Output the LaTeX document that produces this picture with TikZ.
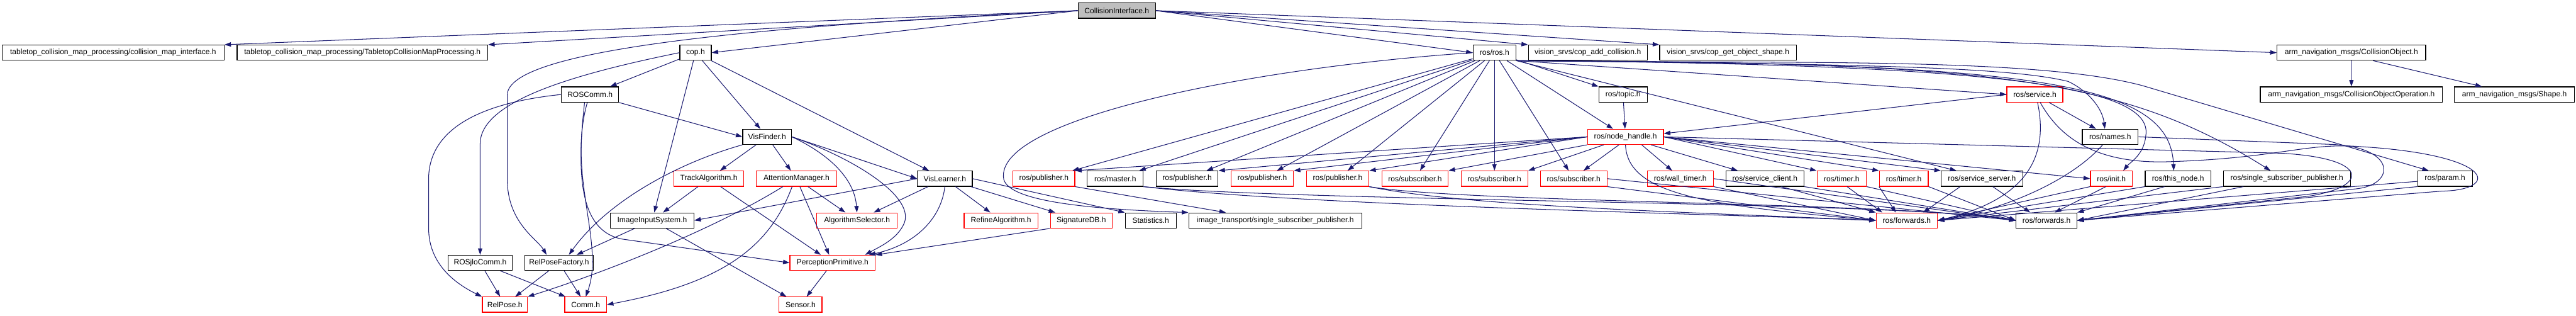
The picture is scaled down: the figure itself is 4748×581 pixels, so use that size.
\documentclass[tikz,border=0pt]{standalone}
\usepackage{fontspec}
\setmainfont{Liberation Sans}
\usetikzlibrary{arrows.meta}
\definecolor{edgec}{HTML}{191970}
\definecolor{rootfill}{HTML}{BFBFBF}
\begin{document}
\begin{tikzpicture}[x=1pt,y=-1pt,
  box/.style={draw=black, line width=1.4pt, minimum height=28pt, inner sep=0pt, font=\fontsize{14}{16}\selectfont},
  rbox/.style={box, draw=red},
  ed/.style={draw=edgec, line width=1.2pt, -{Triangle[length=12pt,width=8pt]}}]
\fill[white] (0,0) rectangle (4748,581);
\useasboundingbox (0,0) rectangle (4748,581);
% row 0
\node[box, minimum width=143pt, fill=rootfill] (ci) at (2058.5,19.6) {CollisionInterface.h};
% row 1
\node[box, minimum width=409pt] (cmi) at (208.5,97) {tabletop\_collision\_map\_processing/collision\_map\_interface.h};
\node[box, minimum width=462pt] (tcmp) at (668,97) {tabletop\_collision\_map\_processing/TabletopCollisionMapProcessing.h};
\node[box, minimum width=58pt] (cop) at (1282,97) {cop.h};
\node[box, minimum width=79pt] (ros) at (2754.5,97) {ros/ros.h};
\node[box, minimum width=219pt] (vadd) at (2926.5,97) {vision\_srvs/cop\_add\_collision.h};
\node[box, minimum width=252pt] (vget) at (3185,97) {vision\_srvs/cop\_get\_object\_shape.h};
\node[box, minimum width=274pt] (co) at (4334,97) {arm\_navigation\_msgs/CollisionObject.h};
% row 2
\node[box, minimum width=105pt] (roscomm) at (1087.5,174) {ROSComm.h};
\node[box, minimum width=89pt] (topic) at (2991.5,174) {ros/topic.h};
\node[rbox, minimum width=103pt] (service) at (3750.5,174) {ros/service.h};
\node[box, minimum width=336pt] (coo) at (4334,174) {arm\_navigation\_msgs/CollisionObjectOperation.h};
\node[box, minimum width=221pt] (shape) at (4634.5,174) {arm\_navigation\_msgs/Shape.h};
% row 3
\node[box, minimum width=90pt] (visfinder) at (1414,252) {VisFinder.h};
\node[rbox, minimum width=140pt] (nh) at (2996,252) {ros/node\_handle.h};
\node[box, minimum width=103pt] (names) at (3889.5,252) {ros/names.h};
% row 4
\node[rbox, minimum width=129pt] (track) at (1306.5,329) {TrackAlgorithm.h};
\node[rbox, minimum width=148pt] (attn) at (1468,329) {AttentionManager.h};
\node[box, minimum width=101pt] (vislearner) at (1741.5,329) {VisLearner.h};
\node[rbox, minimum width=114pt] (pubA) at (1924,329) {ros/publisher.h};
\node[box, minimum width=103pt] (master) at (2055.5,329) {ros/master.h};
\node[box, minimum width=114pt] (pubB) at (2188,329) {ros/publisher.h};
\node[rbox, minimum width=115pt] (pubC) at (2326.5,329) {ros/publisher.h};
\node[rbox, minimum width=115pt] (pubD) at (2465.5,329) {ros/publisher.h};
\node[rbox, minimum width=122pt] (subA) at (2608,329) {ros/subscriber.h};
\node[rbox, minimum width=123pt] (subB) at (2754.5,329) {ros/subscriber.h};
\node[rbox, minimum width=123pt] (subC) at (2900.5,329) {ros/subscriber.h};
\node[rbox, minimum width=122pt] (wall) at (3097,329) {ros/wall\_timer.h};
\node[box, minimum width=144pt] (sclient) at (3253,329) {ros/service\_client.h};
\node[rbox, minimum width=91pt] (timerA) at (3394.5,329) {ros/timer.h};
\node[rbox, minimum width=90pt] (timerB) at (3509,329) {ros/timer.h};
\node[box, minimum width=150pt] (sserver) at (3653,329) {ros/service\_server.h};
\node[rbox, minimum width=77pt] (init) at (3891.5,329) {ros/init.h};
\node[box, minimum width=121pt] (thisnode) at (4014.5,329) {ros/this\_node.h};
\node[box, minimum width=234pt] (ssp) at (4215,329) {ros/single\_subscriber\_publisher.h};
\node[box, minimum width=101pt] (param) at (4506.5,329) {ros/param.h};
% row 5
\node[box, minimum width=154pt] (imginput) at (1202,406) {ImageInputSystem.h};
\node[rbox, minimum width=149pt] (algsel) at (1579.5,406) {AlgorithmSelector.h};
\node[rbox, minimum width=136pt] (refine) at (1845,406) {RefineAlgorithm.h};
\node[rbox, minimum width=114pt] (sigdb) at (1993,406) {SignatureDB.h};
\node[box, minimum width=94pt] (stats) at (2121,406) {Statistics.h};
\node[box, minimum width=319pt] (itssp) at (2350.5,406) {image\_transport/single\_subscriber\_publisher.h};
\node[rbox, minimum width=113pt] (fr) at (3514.5,406) {ros/forwards.h};
\node[box, minimum width=112pt] (fb) at (3772,406) {ros/forwards.h};
% row 6
\node[box, minimum width=118pt] (rosjlo) at (885,484) {ROSjloComm.h};
\node[box, minimum width=127pt] (rpf) at (1030.5,484) {RelPoseFactory.h};
\node[rbox, minimum width=157pt] (pp) at (1534.5,484) {PerceptionPrimitive.h};
% row 7
\node[rbox, minimum width=83pt] (relpose) at (930.5,561) {RelPose.h};
\node[rbox, minimum width=77pt] (comm) at (1079.5,561) {Comm.h};
\node[rbox, minimum width=79pt] (sensor) at (1475.5,561) {Sensor.h};

% ---- edges from CollisionInterface
\draw[ed] (ci.west) -- (cmi.north east);
\draw[ed] (ci.west) -- (tcmp.north east);
\draw[ed] (ci.west) -- (cop.east);
\draw[ed] (ci.west) .. controls (1400,48) and (935,90) .. (935,175) -- (935,330) .. controls (935,410) and (990,440) .. ([xshift=-23pt]rpf.north);
\draw[ed] (ci.east) -- (ros.west);
\draw[ed] (ci.east) -- (vadd.north west);
\draw[ed] (ci.east) -- (vget.north west);
\draw[ed] (ci.east) -- (co.west);
% ---- cop
\draw[ed] (cop) -- (roscomm);
\draw[ed] (cop.west) .. controls (1040,140) and (885,190) .. (885,265) -- (rosjlo.north);
\draw[ed] (cop) -- (imginput);
\draw[ed] (cop) -- (visfinder);
\draw[ed] (cop) -- (vislearner);
% ---- ROSComm
\draw[ed] (roscomm.south east) -- (visfinder.west);
\draw[ed] (roscomm.west) .. controls (880,190) and (790,240) .. (790,330) -- (790,420) .. controls (790,490) and (845,525) .. (relpose.north west);
\draw[ed] ([xshift=-5pt]roscomm.south) .. controls (1045,320) and (1115,450) .. (comm.north);
\draw[ed] ([xshift=-10pt]roscomm.south) .. controls (1060,340) and (1075,425) .. (1145,440) -- (pp.west);
% ---- VisFinder
\draw[ed] (visfinder.south west) .. controls (1250,300) and (1120,370) .. ([xshift=18pt]rpf.north);
\draw[ed] (visfinder) -- (track);
\draw[ed] (visfinder) -- (attn);
\draw[ed] (visfinder.east) .. controls (1530,285) and (1575,330) .. (algsel.north);
\draw[ed] (visfinder.east) .. controls (1570,290) and (1685,360) .. (1667,410) .. controls (1655,440) and (1620,455) .. ([xshift=60pt]pp.north);
\draw[ed] (visfinder.east) -- (vislearner.west);
% ---- TrackAlgorithm / AttentionManager
\draw[ed] (track) -- (imginput);
\draw[ed] (track) -- (pp);
\draw[ed] ([xshift=-25pt]attn.south) .. controls (1320,420) and (1120,500) .. (relpose.north east);
\draw[ed] ([xshift=-8pt]attn.south) .. controls (1420,450) and (1340,520) .. (comm.east);
\draw[ed] (attn) -- (pp);
\draw[ed] (attn) -- (algsel);
% ---- ImageInputSystem etc.
\draw[ed] (imginput) -- (rpf);
\draw[ed] (imginput) -- (sensor);
\draw[ed] (rosjlo) -- (relpose);
\draw[ed] (rosjlo) -- (comm);
\draw[ed] (rpf) -- (relpose);
\draw[ed] (rpf) -- (comm);
\draw[ed] (pp) -- (sensor);
% ---- VisLearner
\draw[ed] (vislearner.west) -- (imginput.east);
\draw[ed] (vislearner) -- (algsel);
\draw[ed] (vislearner.south) .. controls (1735,400) and (1690,450) .. ([xshift=-12pt]pp.north east);
\draw[ed] (vislearner) -- (refine);
\draw[ed] (vislearner) -- (sigdb);
\draw[ed] (vislearner.east) -- (stats.north west);
\draw[ed] (sigdb.south west) -- (pp.north east);
% ---- ros/ros.h
\draw[ed] (ros.west) .. controls (2300,125) and (1830,220) .. (1850,330) .. controls (1860,370) and (2000,385) .. (itssp.north west);
\draw[ed] (ros) -- (pubA);
\draw[ed] (ros) -- (master);
\draw[ed] (ros) -- (pubB);
\draw[ed] (ros) -- (pubC);
\draw[ed] (ros) -- (pubD);
\draw[ed] (ros) -- (subA);
\draw[ed] (ros) -- (subB);
\draw[ed] (ros) -- (subC);
\draw[ed] (ros) -- (nh);
\draw[ed] (ros) -- (topic);
\draw[ed] (ros.south east) -- (service.west);
\draw[ed] (ros.south east) -- ([xshift=-47pt]sserver.north);
\draw[ed] (ros.south east) .. controls (3400,118) and (3700,122) .. (3812,150) .. controls (3850,168) and (3875,200) .. ([xshift=-10pt]names.north);
\draw[ed] (ros.south east) .. controls (3700,118) and (3970,160) .. (3955,250) .. controls (3952,285) and (3925,300) .. ([xshift=22pt]init.north);
\draw[ed] (ros.south east) .. controls (3750,115) and (4000,150) .. ([xshift=-8pt]thisnode.north);
\draw[ed] (ros.south east) .. controls (3650,116) and (3900,135) .. ([xshift=-30pt]ssp.north);
\draw[ed] (ros.south east) .. controls (3300,118) and (3750,104) .. (3950,158) -- ([xshift=-30pt]param.north);
% ---- ros/node_handle.h
\draw[ed] (nh.west) -- (pubA.north east);
\draw[ed] (nh.west) -- (pubB.north east);
\draw[ed] (nh.west) -- (pubC.north east);
\draw[ed] (nh.west) -- (pubD.north east);
\draw[ed] (nh.south west) -- (subA.north east);
\draw[ed] ([xshift=-40pt]nh.south) -- (subB.north east);
\draw[ed] ([xshift=-12pt]nh.south) -- ([xshift=18pt]subC.north);
\draw[ed] ([xshift=30pt]nh.south) -- ([xshift=-15pt]wall.north);
\draw[ed] ([xshift=47pt]nh.south) -- ([xshift=-50pt]sclient.north);
\draw[ed] (nh.east) -- (timerA.north west);
\draw[ed] (nh.east) -- (timerB.north west);
\draw[ed] (nh.east) -- (sserver.north west);
\draw[ed] (nh.east) -- (init.west);
\draw[ed] (nh.south) .. controls (3000,360) and (3150,378) .. (fr.west);
\draw[ed] (nh.east) -- (4200,282) .. controls (4370,290) and (4370,345) .. (4250,362) -- (fb.east);
% ---- topic / service / names
\draw[ed] (topic) -- (nh);
\draw[ed] (service.west) -- ([yshift=6pt]nh.east);
\draw[ed] ([xshift=5pt]service.south) .. controls (3775,280) and (3745,365) .. (fr.east);
\draw[ed] (service) -- (names);
\draw[ed] ([xshift=10pt]service.south) .. controls (3800,260) and (3870,300) .. (3990,298) .. controls (4200,292) and (4250,262) .. (4350,270) .. controls (4600,285) and (4610,350) .. (4500,352) -- (fb.east);
\draw[ed] ([xshift=-14pt]names.south) .. controls (3820,330) and (3700,385) .. (fr.east);
\draw[ed] (names.east) -- (4300,266) .. controls (4420,272) and (4415,342) .. (4340,348) -- (fb.east);
% ---- row 4 to forwards
\draw[ed] (master.south east) .. controls (2400,378) and (3100,392) .. (fr.west);
\draw[ed] (master.south east) .. controls (2400,372) and (3500,370) .. (fb.west);
\draw[ed] (pubD.south east) .. controls (2700,380) and (3100,390) .. (fr.west);
\draw[ed] (pubD.south east) .. controls (2700,374) and (3500,372) .. (fb.west);
\draw[ed] (subC.south east) -- (fr.west);
\draw[ed] (subC.east) -- (fb.west);
\draw[ed] (wall.south east) -- (fr.west);
\draw[ed] (wall.east) -- (fb.west);
\draw[ed] ([xshift=30pt]sclient.south) -- (fr.north west);
\draw[ed] (sclient.south east) -- (fb.west);
\draw[ed] ([xshift=10pt]timerA.south) -- ([xshift=12pt]fr.north west);
\draw[ed] (timerA.south east) -- (fb.west);
\draw[ed] (timerB.south west) -- ([xshift=-20pt]fr.north);
\draw[ed] (timerB.south east) -- (fb.west);
\draw[ed] ([xshift=-40pt]sserver.south) -- ([xshift=30pt]fr.north);
\draw[ed] ([xshift=20pt]sserver.south) -- ([xshift=-30pt]fb.north);
\draw[ed] (init.south west) -- (fr.east);
\draw[ed] ([xshift=-10pt]init.south) -- ([xshift=15pt]fb.north);
\draw[ed] (thisnode.south west) -- (fr.east);
\draw[ed] ([xshift=-25pt]thisnode.south) -- (fb.north east);
\draw[ed] (ssp.south west) -- (fr.east);
\draw[ed] ([xshift=-80pt]ssp.south) -- (fb.east);
\draw[ed] ([yshift=-5pt]param.west) -- (fr.east);
\draw[ed] (param.south west) -- (fb.east);
% ---- others
\draw[ed] (pubA.south east) -- ([xshift=-91pt]itssp.north);
\draw[ed] (co) -- (coo);
\draw[ed] ([xshift=40pt]co.south) -- ([xshift=-60pt]shape.north);
\end{tikzpicture}
\end{document}
